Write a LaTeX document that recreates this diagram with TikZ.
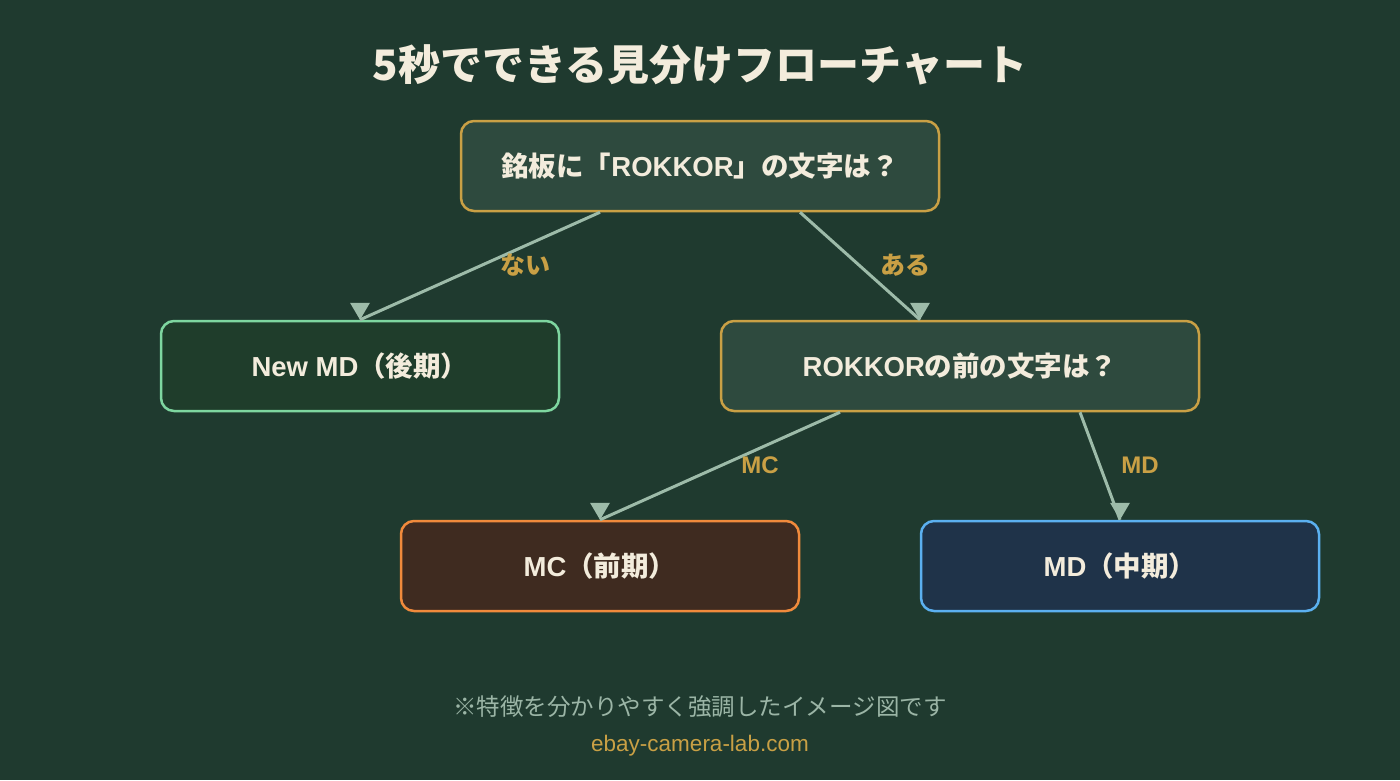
\documentclass[tikz,border=0pt]{standalone}
\usepackage{fontspec}
\setmainfont{Liberation Sans}
\newfontfamily\jp{Noto Sans CJK JP}
\definecolor{bgcol}{HTML}{1F3A2F}
\definecolor{cream}{HTML}{F3ECDC}
\definecolor{gold}{HTML}{C9A045}
\definecolor{qfill}{HTML}{2E4A3E}
\definecolor{newfill}{HTML}{1F3D2B}
\definecolor{newline}{HTML}{7ED6A0}
\definecolor{mcfill}{HTML}{3F2B20}
\definecolor{mcline}{HTML}{F08A3C}
\definecolor{mdfill}{HTML}{1F3349}
\definecolor{mdline}{HTML}{5BB0F0}
\definecolor{edgecol}{HTML}{9DBBA9}
\definecolor{notecol}{HTML}{9BB5A6}
\begin{document}
\begin{tikzpicture}[x=1pt,y=-1pt,
  box/.style={rounded corners=13pt,line width=2.5pt,minimum width=478pt,minimum height=90pt,
    text=cream,font=\fontsize{27.5}{32}\selectfont\bfseries},
  answer/.style={box,minimum width=398pt},
  edge/.style={draw=edgecol,line width=3pt},
  elabel/.style={text=gold,font=\fontsize{24}{28}\selectfont\bfseries},
  tri/.pic={\fill[edgecol] (0,0) -- (-10,-17) -- (10,-17) -- cycle;}]
\fill[bgcol] (0,0) rectangle (1400,780);
\node[text=cream,font=\fontsize{42}{48}\selectfont\bfseries\jp] (title) at (700,65) {5秒でできる見分けフローチャート};
\node[box,fill=qfill,draw=gold] (q1) at (700,166) {{\jp 銘板に「}ROKKOR{\jp 」の文字は？}};
\node[answer,fill=newfill,draw=newline] (newmd) at (360,366) {New MD{\jp （後期）}};
\node[box,fill=qfill,draw=gold] (q2) at (960,366) {ROKKOR{\jp の前の文字は？}};
\node[answer,fill=mcfill,draw=mcline] (mc) at (600,566) {MC{\jp （前期）}};
\node[answer,fill=mdfill,draw=mdline] (md) at (1120,566) {MD{\jp （中期）}};
\draw[edge] ([xshift=-100pt]q1.south) -- (newmd.north) pic{tri};
\draw[edge] ([xshift=100pt]q1.south) -- ([xshift=-40pt]q2.north) pic{tri};
\draw[edge] ([xshift=-120pt]q2.south) -- (mc.north) pic{tri};
\draw[edge] ([xshift=120pt]q2.south) -- (md.north) pic{tri};
\node[elabel,font=\fontsize{25}{29}\selectfont\bfseries\jp] (nai) at (525,265) {ない};
\node[elabel,font=\fontsize{25}{29}\selectfont\bfseries\jp] (aru) at (905,265) {ある};
\node[elabel] (lmc) at (760,465) {MC};
\node[elabel] (lmd) at (1140,465) {MD};
\node[text=notecol,font=\fontsize{23.5}{28}\selectfont\jp] (note) at (700,707) {※特徴を分かりやすく強調したイメージ図です};
\node[text=gold,font=\fontsize{22.5}{27}\selectfont] (site) at (700,746) {ebay-camera-lab.com};
\end{tikzpicture}
\end{document}
